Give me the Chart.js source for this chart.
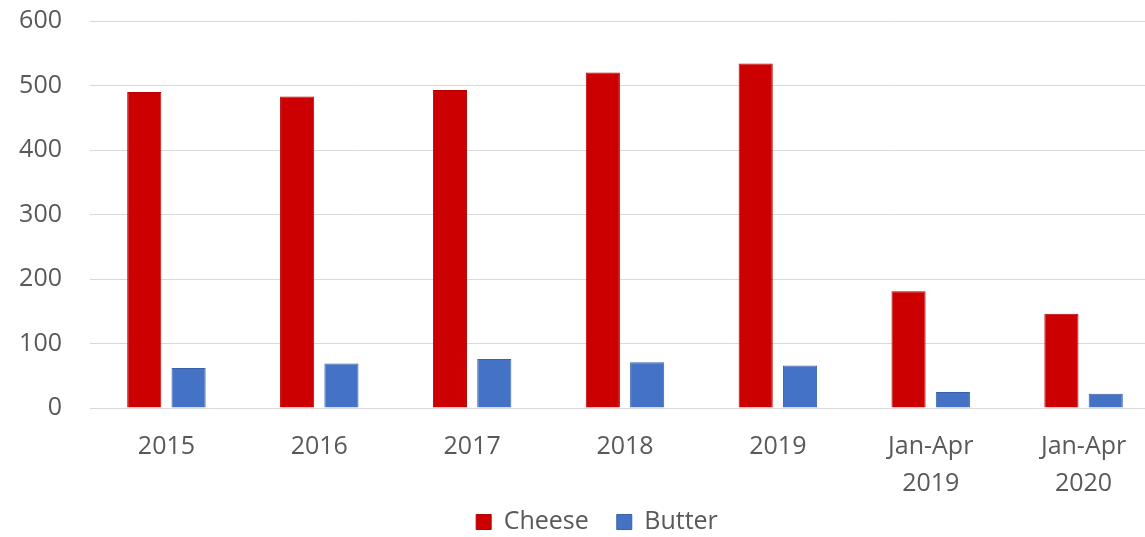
<!DOCTYPE html>
<html>
<head>
<meta charset="utf-8">
<script src="https://cdn.jsdelivr.net/npm/chart.js@4"></script>
<style>
html,body{margin:0;padding:0;background:#fff;overflow:hidden;}
#wrap{width:1145px;height:537px;overflow:hidden;position:relative;}
#box{width:1160px;height:537px;position:absolute;left:0;top:0;}
</style>
</head>
<body>
<div id="wrap"><div id="box"><canvas id="c"></canvas></div></div>
<script>
const categories = ['2015','2016','2017','2018','2019',['Jan-Apr','2019'],['Jan-Apr','2020']];
const cheese = [490, 483, 493, 520, 534, 181, 146];
const butter = [62, 69, 76, 71, 66, 25, 22];
const yTicks = [0,100,200,300,400,500,600];

const font = '"Open Sans", "DejaVu Sans", sans-serif';
const FS = 25;

// Legend: keep wide horizontal spacing between items but a compact box height.
const legendTweak = {
  id: 'legendTweak',
  beforeLayout(chart) {
    const lg = chart.legend;
    if (!lg || lg._tweaked) return;
    const origFit = lg.fit.bind(lg);
    lg.fit = function () { origFit(); this.height = 34; };
    const origDraw = lg.draw.bind(lg);
    lg.draw = function () {
      const t = this.top, l = this.left, r = this.right;
      this.top = t - 21.5;
      this.left = l + 17; this.right = r + 17;
      origDraw();
      this.top = t; this.left = l; this.right = r;
    };
    lg._tweaked = true;
  }
};

new Chart(document.getElementById('c'), {
  type: 'bar',
  data: {
    labels: categories,
    datasets: [
      {label:'Cheese', data: cheese, backgroundColor:'#CC0000', borderColor:'#B80000', borderWidth:1,
       categoryPercentage:0.58, barPercentage:0.77},
      {label:'Butter', data: butter, backgroundColor:'#4472C4', borderColor:'#3A62AA', borderWidth:1,
       categoryPercentage:0.58, barPercentage:0.77}
    ]
  },
  plugins: [legendTweak],
  options: {
    responsive:true, maintainAspectRatio:false, animation:false,
    layout:{padding:0},
    plugins:{
      legend:{position:'bottom', labels:{boxWidth:15, boxHeight:15, color:'#595959', padding:28,
        font:{family:font, size:FS}}},
      tooltip:{enabled:false}
    },
    scales:{
      x:{grid:{display:false, drawTicks:false}, border:{display:false},
         afterFit:(s)=>{s.height = 95;},
         ticks:{color:'#595959', font:{family:font, size:FS, lineHeight:1.5}, padding:20, maxRotation:0, autoSkip:false}},
      y:{min:0,max:600,
         afterBuildTicks:(s)=>{s.ticks = yTicks.map(v=>({value:v}));},
         afterFit:(s)=>{s.width = 90; s.paddingTop = 21; s.paddingBottom = 15;},
         grid:{color:'#D9D9D9', lineWidth:1, drawTicks:false}, border:{display:false},
         ticks:{color:'#595959', font:{family:font, size:FS}, padding:28}}
    }
  }
});
</script>
</body>
</html>
